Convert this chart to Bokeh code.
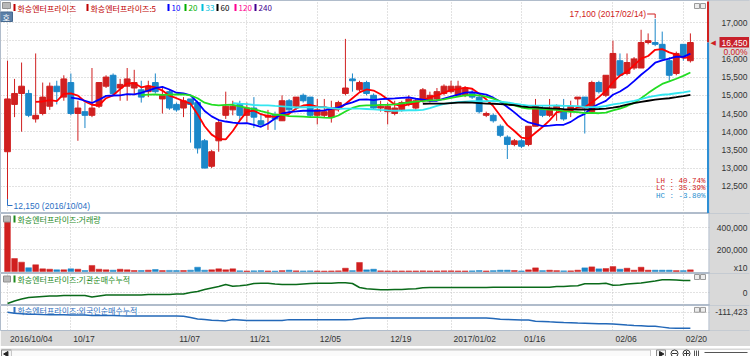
import numpy as np
import pandas as pd
from bokeh.plotting import figure
from bokeh.layouts import column
from bokeh.models import Range1d, Grid, FixedTicker, Label, ColumnDataSource
from bokeh.embed import file_html
from bokeh.resources import INLINE

# ---------------- data ----------------
name = "화승엔터프라이즈"
holidays = ["2016-12-30", "2017-01-27", "2017-01-30"]
dates = [d for d in pd.bdate_range("2016-10-04", "2017-02-21")
         if d.strftime("%Y-%m-%d") not in holidays]

tick_dates = ["2016-10-04", "2016-10-17", "2016-11-07", "2016-11-21", "2016-12-05",
              "2016-12-19", "2017-01-02", "2017-01-16", "2017-02-06", "2017-02-20"]
tick_labels = ["2016/10/04", "10/17", "11/07", "11/21", "12/05",
               "12/19", "2017/01/02", "01/16", "02/06", "02/20"]

open_ = [13450, 14750, 15050, 15050, 14350, 14500, 14700, 15250, 14950, 15350,
         14500, 14550, 14450, 14700, 15250, 15550, 15200, 15250, 15200, 15150,
         15100, 15350, 14900, 15100, 14750, 14650, 14900, 14800, 13750, 13050,
         13750, 14450, 14600, 14750, 14450, 14650, 14300, 14400, 14450, 14300,
         14850, 14700, 15000, 14950, 14450, 14450, 14400, 14650, 15050, 15450,
         15150, 15350, 15000, 14650, 14550, 14500, 14600, 14750, 14650, 14850,
         14850, 14900, 15050, 15100, 15000, 15000, 15050, 14950, 14450, 14450,
         14150, 13850, 13650, 13750, 13650, 14150, 14650, 14450, 14600, 14550,
         14600, 14900, 14950, 14550, 15350, 15000, 15200, 15950, 15600, 15750,
         15750, 16450, 16450, 16400, 15950, 15600, 16400, 15950]
high = [15950, 15450, 15900, 15150, 16150, 15350, 15350, 15400, 15550, 15600,
        14850, 14800, 15750, 15350, 15550, 15600, 15450, 15750, 15700, 15400,
        15400, 15600, 15200, 15150, 14800, 14950, 14900, 14850, 13800, 13500,
        14350, 15100, 14850, 14850, 14800, 14950, 14500, 14600, 14550, 15000,
        14900, 14950, 15050, 14950, 14900, 14900, 14850, 14850, 16550, 15600,
        15400, 15400, 15050, 14850, 14800, 14850, 14850, 15000, 14900, 15200,
        15100, 15200, 15300, 15400, 15400, 15250, 15150, 15000, 14550, 14500,
        14200, 13900, 13800, 13800, 14150, 14900, 14700, 14900, 14750, 14900,
        14850, 14950, 14950, 15400, 15400, 15550, 16500, 16150, 16150, 16050,
        16800, 16700, 17100, 16750, 16050, 16200, 16400, 16700]
low = [12150, 14400, 14000, 14400, 14250, 14450, 14600, 14750, 14850, 14450,
       13750, 14100, 14400, 14650, 15200, 15000, 14850, 14850, 15000, 14800,
       14950, 15050, 14500, 14600, 14550, 14400, 13700, 13400, 13000, 13000,
       13450, 14350, 14450, 14300, 14250, 14100, 14150, 14050, 14050, 14300,
       14500, 14600, 14800, 14400, 14200, 14400, 14250, 14550, 15000, 15100,
       15100, 15000, 14600, 14550, 14200, 14450, 14550, 14700, 14600, 14800,
       14800, 14850, 15000, 15050, 15000, 14950, 14900, 14500, 14400, 14250,
       13850, 13250, 13600, 13550, 13600, 14150, 14400, 14400, 14300, 14300,
       14400, 14650, 13950, 14550, 15050, 14950, 15200, 15550, 15550, 15700,
       15750, 16400, 16350, 15950, 15400, 15550, 15950, 15900]
close = [14900, 15050, 15250, 14450, 14450, 14950, 15250, 15100, 15450, 14500,
         14650, 14450, 14650, 15350, 15500, 15050, 15300, 15450, 15350, 14950,
         15250, 15100, 15000, 14650, 14600, 14850, 14750, 13550, 13000, 13450,
         14250, 14700, 14700, 14450, 14650, 14400, 14200, 14450, 14350, 14850,
         14600, 14950, 14850, 14450, 14600, 14550, 14650, 14800, 15200, 15400,
         15350, 15050, 14650, 14700, 14700, 14650, 14800, 14900, 14850, 15150,
         15000, 15100, 15250, 15250, 15250, 15200, 14950, 14550, 14500, 14300,
         13900, 13650, 13750, 13600, 14150, 14700, 14450, 14650, 14700, 14350,
         14700, 14950, 14650, 15350, 15100, 15550, 16150, 15550, 15900, 16000,
         16450, 16500, 16400, 16000, 15550, 16150, 16050, 16450]
volume = [480000, 118000, 85000, 34000, 61000, 24000, 21000, 15000, 15000, 24000,
          21000, 9000, 55000, 21000, 15000, 12000, 21000, 15000, 9000, 9000,
          12000, 18000, 8000, 10000, 8000, 9000, 12000, 39000, 12000, 15000,
          24000, 15000, 24000, 6000, 5000, 6000, 8000, 5000, 4000, 8000,
          12000, 6000, 5000, 6000, 5000, 4000, 5000, 6000, 30000, 8000,
          82000, 15000, 21000, 6000, 5000, 5000, 5000, 5000, 5000, 6000,
          5000, 5000, 6000, 6000, 5000, 5000, 6000, 9000, 5000, 8000,
          12000, 12000, 9000, 5000, 15000, 33000, 8000, 12000, 8000, 6000,
          6000, 12000, 33000, 42000, 24000, 27000, 45000, 21000, 30000, 12000,
          39000, 12000, 12000, 12000, 12000, 8000, 8000, 15000]
inst_cum = [-22000, -17000, -13000, -10000, -9000, -8000, -7000, -7000, -6000, -6000,
            -6000, -6000, -9000, -7000, -5000, -5000, -5000, -5000, -5000, -5000,
            -4000, -4000, -4000, -4000, -3000, -3000, 0, 2000, 6000, 9000,
            12000, 16000, 12600, 13400, 15000, 18000, 18600, 18600, 17000, 16000,
            16000, 16000, 17000, 18000, 18600, 18600, 18600, 19400, 19400, 18000,
            10000, 7400, 6600, 5400, 5400, 6000, 6000, 7000, 7400, 9400,
            10000, 10000, 10000, 10000, 10000, 10000, 10000, 10000, 10000, 10600,
            10600, 10600, 10600, 10600, 10600, 10600, 10600, 10600, 12000, 12000,
            13000, 13400, 17400, 17400, 17400, 18600, 14600, 15000, 17000, 18000,
            19000, 21000, 23000, 25400, 25400, 25000, 24000, 24000]
foreign_cum = [-111423, -115400, -117400, -119400, -119400, -120600, -121400, -121400, -122200, -123400,
               -123400, -123400, -124600, -125400, -125400, -125400, -126200, -126600, -127400, -127400,
               -127400, -127400, -127400, -127400, -127400, -128600, -133400, -139400, -141400, -144600,
               -146200, -147400, -141400, -143400, -145400, -145400, -145400, -145400, -145400, -145400,
               -142200, -142200, -142200, -142200, -142200, -142200, -142200, -142200, -142200, -141400,
               -137400, -135400, -135400, -135400, -135400, -135400, -135400, -135400, -135400, -135400,
               -135400, -135400, -135400, -135400, -135400, -135400, -135400, -135400, -135400, -137400,
               -140600, -141400, -142200, -143400, -144200, -148600, -149800, -151400, -152600, -154200,
               -155400, -156600, -157400, -158200, -159400, -159400, -160600, -162600, -164600, -166200,
               -167400, -169400, -170200, -173400, -176600, -178200, -178200, -178200]

price_ticks = [12500, 13000, 13500, 14000, 14500, 15000, 15500, 16000, 16500, 17000]
vol_ticks = [200000, 400000]
inst_ticks = [0]
foreign_ticks = [-111423]
ma_periods = [5, 10, 20, 33, 60, 120, 240]
ma_colors = ["#ff0000", "#0000ff", "#22dd22", "#33e6f0", "#000000", "#ff1493", "#3c1487"]
legend_colors = ["#c00000", "#0000ff", "#00b000", "#00c0dc", "#000000", "#ff0090", "#400090"]

# ---------------- style / layout helpers ----------------
W = 750
EDGE = 709          # left edge of the right-hand scale strip
X0, DX = 7.0, 7.04
GRAY = "#d9d9d9"
RED = "#d02020"
BLUE = "#1b87c9"
GRID = "#c4c4c4"
NUM_FONT = "Liberation Sans"
KR_FONT = "Noto Sans CJK KR"


def X(px):
    return (px - X0) / DX


def PY(py):
    return 17000 - (py - 22) * 500 / 18.2


def VY(py):
    return (271 - py) * 200000 / 22


def IY(py):
    return (292 - py) * 2000


def FY(py):
    return -111423 - (py - 312) * 4000


xr = Range1d(X(0), X(W))
n = len(close)
idx = list(range(n))
date_idx = [[d.strftime("%Y-%m-%d") for d in dates].index(t) for t in tick_dates]


def mkfig(h, y0, y1, bottom=0, axis=False):
    p = figure(width=W, height=h, x_range=xr, y_range=Range1d(y0, y1),
               output_backend="svg", toolbar_location=None,
               x_axis_location="below" if axis else None, y_axis_location=None,
               min_border_left=0, min_border_right=0, min_border_top=0,
               min_border_bottom=bottom, background_fill_color="white",
               border_fill_color=GRAY, outline_line_color="#b0bccb")
    p.grid.visible = False
    p.add_layout(Grid(dimension=0, ticker=FixedTicker(ticks=date_idx),
                      grid_line_color=GRID, grid_line_dash="1 2"))
    # right-hand scale strip
    p.quad(left=[X(EDGE)], right=[X(W + 2)], top=[y1 + (y1 - y0)], bottom=[y0 - (y1 - y0)],
           fill_color=GRAY, line_color=None)
    p.segment(x0=[X(EDGE - 0.5)], y0=[y0 - (y1 - y0)], x1=[X(EDGE - 0.5)], y1=[y1 + (y1 - y0)],
              line_color="#a8b4c4", line_width=1)
    return p


def hgrid(p, ticks):
    p.add_layout(Grid(dimension=1, ticker=FixedTicker(ticks=ticks),
                      grid_line_color=GRID, grid_line_dash="1 2"))


def lab(p, px, y, text, color, size="8px", font=KR_FONT, align="left", **kw):
    p.add_layout(Label(x=X(px), y=y, text=text, text_color=color, text_font_size=size,
                       text_font=font, text_align=align, text_baseline="middle", **kw))


def rnum(p, y, text, color="#333333"):
    lab(p, 747, y, text, color, size="8.5px", font=NUM_FONT, align="right")


colors = [RED if c >= o else BLUE for o, c in zip(open_, close)]

# ---------------- price panel ----------------
fp = mkfig(213, PY(213), PY(0))
hgrid(fp, price_ticks)
src = ColumnDataSource(dict(x=idx, h=high, l=low,
                            top=[max(o, c) for o, c in zip(open_, close)],
                            bot=[min(o, c) for o, c in zip(open_, close)],
                            color=colors))
fp.segment(x0="x", y0="l", x1="x", y1="h", line_color="color", line_width=1, source=src)
fp.vbar(x="x", width=0.82, top="top", bottom="bot", fill_color="color",
        line_color="color", line_width=1, source=src)

cs = pd.Series(close, dtype=float)
for per, col in zip(ma_periods, ma_colors):
    if per <= n:
        ma = cs.rolling(per).mean()
        fp.line(idx, ma.values, line_color=col, line_width=1.8)

# legend row
fp.quad(left=[X(2)], right=[X(10)], top=[PY(2)], bottom=[PY(8)],
        fill_color="#b8b8b8", line_color="#909090")
legend_items = [(13, name, legend_colors[0])]
legend_items.append((86, f"{name}:{ma_periods[0]}", legend_colors[0]))
mpos = [167, 184, 201, 216, 234, 254]
for px, per, col in zip(mpos, ma_periods[1:], legend_colors[1:]):
    legend_items.append((px, str(per), col))
for px, txt, col in legend_items:
    fp.quad(left=[X(px)], right=[X(px + 2)], top=[PY(3.5)], bottom=[PY(10.5)],
            fill_color=col, line_color=None)
    lab(fp, px + 4, PY(7.5), txt, col, size="8px")
fp.quad(left=[X(0)], right=[X(12)], top=[PY(11.5)], bottom=[PY(21)],
        fill_color="#5b80a8", line_color="#46698f")
lab(fp, 2, PY(16.5), "호", "white", size="8px")

# panel buttons
for bx in (694, 700):
    fp.quad(left=[X(bx)], right=[X(bx + 5)], top=[PY(3)], bottom=[PY(8)],
            fill_color="#ececec", line_color="#9a9a9a")

# high / low annotations
hi_i = int(np.argmax(high))
lo_i = int(np.argmin(low))
hi_v, lo_v = high[hi_i], low[lo_i]
last = close[-1]
fp.line([hi_i - 8 / DX, hi_i, hi_i], [PY(13.5), PY(13.5), PY(17.5)], line_color=RED, line_width=1)
lab(fp, 7 + hi_i * DX - 9, PY(13.5), f"{hi_v:,} ({dates[hi_i].strftime('%Y/%m/%d')})", RED,
    size="8.5px", font=NUM_FONT, align="right")
fp.line([lo_i, lo_i, lo_i + 5 / DX], [lo_v, PY(205), PY(205)], line_color="#2a6fc4", line_width=1)
lab(fp, 7 + lo_i * DX + 6, PY(205), f"{lo_v:,} ({dates[lo_i].strftime('%Y/%m/%d')})", "#2a6fc4",
    size="8.5px", font=NUM_FONT)

lh = (hi_v / lo_v - 1) * 100
lc = (last / lo_v - 1) * 100
hc = (last / hi_v - 1) * 100
lab(fp, 705, PY(180), f"LH : {lh:.2f}%", "#d02020", size="7.5px", font="Liberation Mono", align="right")
lab(fp, 705, PY(187.5), f"LC : {lc:.2f}%", "#d02020", size="7.5px", font="Liberation Mono", align="right")
lab(fp, 705, PY(195), f"HC : {hc:.2f}%", "#1f8fd0", size="7.5px", font="Liberation Mono", align="right")

# right edge indicator
fp.segment(x0=[X(707.5)], y0=[PY(1)], x1=[X(707.5)], y1=[last], line_color=RED, line_width=2)
fp.segment(x0=[X(707.5)], y0=[last], x1=[X(707.5)], y1=[PY(213)], line_color="#2d8fd5", line_width=2)

for t in price_ticks:
    if abs(t - last) > 200:
        rnum(fp, t, f"{t:,}")
ly = 22 + (17000 - last) * 18.2 / 500
fp.quad(left=[X(719)], right=[X(748.5)], top=[PY(ly - 5.5)], bottom=[PY(ly + 5)],
        fill_color="#c8202a", line_color=None)
lab(fp, 747, last, f"{last:,}", "white", size="8.5px", font=NUM_FONT, align="right")
lab(fp, 710, last, "◀", RED, size="7px", font="DejaVu Sans")
lab(fp, 747, PY(51.5), "0.00%", RED, size="8.5px", font=NUM_FONT, align="right")

# ---------------- volume panel ----------------
fv = mkfig(60, VY(273), VY(213))
hgrid(fv, vol_ticks)
fv.vbar(x=idx, width=0.82, top=volume, bottom=0, fill_color=colors, line_color=colors, line_width=0.5)
fv.quad(left=[X(3)], right=[X(10)], top=[VY(215.5)], bottom=[VY(221.5)], fill_color="#b8b8b8", line_color="#909090")
fv.quad(left=[X(13)], right=[X(15)], top=[VY(215)], bottom=[VY(222)], fill_color="#1e8a1e", line_color=None)
lab(fv, 17, VY(218.5), f"{name}:거래량", "#1e8a1e", size="8px")
for t in vol_ticks:
    rnum(fv, t, f"{t:,}")
rnum(fv, VY(267), "x10")

# ---------------- institution panel ----------------
fi = mkfig(32, IY(305), IY(273))
hgrid(fi, inst_ticks)
fi.line(idx, inst_cum, line_color="#0a6a1a", line_width=1.5)
fi.quad(left=[X(3)], right=[X(10)], top=[IY(275.5)], bottom=[IY(281.5)], fill_color="#b8b8b8", line_color="#909090")
fi.quad(left=[X(13)], right=[X(15)], top=[IY(275)], bottom=[IY(282)], fill_color="#1e8a1e", line_color=None)
lab(fi, 17, IY(278.5), f"{name}:기관순매수누적", "#1e8a1e", size="8px")
for bx in (694, 700):
    fi.quad(left=[X(bx)], right=[X(bx + 5)], top=[IY(274)], bottom=[IY(279)],
            fill_color="#ececec", line_color="#9a9a9a")
for t in inst_ticks:
    rnum(fi, t, f"{t:,}")

# ---------------- foreign panel ----------------
ff = mkfig(41, FY(331), FY(305), bottom=15, axis=True)
hgrid(ff, foreign_ticks)
ff.line(idx, foreign_cum, line_color="#2368b8", line_width=1.5)
ff.quad(left=[X(13)], right=[X(15)], top=[FY(306.5)], bottom=[FY(313.5)], fill_color="#2f6fc0", line_color=None)
lab(ff, 17, FY(310), f"{name}:외국인순매수누적", "#2f6fc0", size="8px")
for bx in (694, 700):
    ff.quad(left=[X(bx)], right=[X(bx + 5)], top=[FY(307)], bottom=[FY(312)],
            fill_color="#ececec", line_color="#9a9a9a")
for t in foreign_ticks:
    rnum(ff, t, f"{t:,}")


def text_w(s):  # approximate width in px of a date label at 8.5px
    return sum(2.36 if ch == "/" else 4.73 for ch in s)


# axis labels sit to the right of their grid line: shift each tick by half a label width
label_pos = [round(i + (2.5 + text_w(s) / 2) / DX, 3) for i, s in zip(date_idx, tick_labels)]
ax = ff.xaxis[0]
ax.ticker = FixedTicker(ticks=label_pos)
ax.major_label_overrides = {pos: s for pos, s in zip(label_pos, tick_labels)}
ax.major_label_text_font = NUM_FONT
ax.major_label_text_font_size = "8.5px"
ax.major_label_text_color = "#333333"
ax.major_label_standoff = 3
ax.major_tick_out = 0
ax.major_tick_in = 0
ax.minor_tick_out = 0
ax.minor_tick_in = 0
ax.axis_line_color = None

# ---------------- scroll bar row ----------------
fs = figure(width=W, height=10, x_range=Range1d(0, W), y_range=Range1d(10, 0),
            output_backend="svg", toolbar_location=None,
            x_axis_location=None, y_axis_location=None,
            min_border_left=0, min_border_right=0, min_border_top=0, min_border_bottom=0,
            background_fill_color="white", border_fill_color="white", outline_line_color=None)
fs.grid.visible = False
fs.quad(left=[0], right=[W], top=[0], bottom=[1], fill_color="#b0b0b0", line_color=None)
fs.quad(left=[1], right=[11], top=[1.5], bottom=[9.5], fill_color="#f4f4f4", line_color="#8a8a8a")
fs.quad(left=[11], right=[650], top=[1.5], bottom=[9.5], fill_color="#fafafa", line_color="#c8c8c8")
fs.quad(left=[656], right=[665], top=[1.5], bottom=[9.5], fill_color="#f4f4f4", line_color="#8a8a8a")
fs.scatter(x=[6], y=[5.5], marker="triangle", angle=1.5708, size=5, color="#222222")
fs.scatter(x=[660.5], y=[5.5], marker="triangle", angle=-1.5708, size=5, color="#222222")
fs.scatter(x=[674, 686], y=[5, 5], marker="circle", size=7, fill_color="white", line_color="#333333")
fs.segment(x0=[671.5, 683.5, 686], y0=[5, 5, 2.5], x1=[676.5, 688.5, 686], y1=[5, 5, 7.5], line_color="#333333")
fs.segment(x0=[694, 696, 698], y0=[2, 2, 2], x1=[694, 696, 698], y1=[8, 8, 8], line_color="#555555")
fs.quad(left=[704], right=[747], top=[3.5], bottom=[4.5], fill_color="#555555", line_color=None)

layout = column(fp, fv, fi, ff, fs, spacing=0)
open("out.html", "w").write(file_html(layout, INLINE))
